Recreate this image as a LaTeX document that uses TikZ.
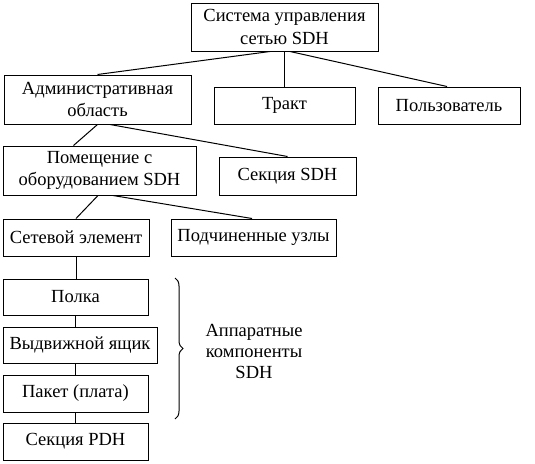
\documentclass[tikz,border=0pt]{standalone}
\usepackage{fontspec}
\setmainfont{Liberation Serif}
\usetikzlibrary{decorations.pathreplacing}
\begin{document}
\begin{tikzpicture}[x=1pt,y=-1pt,
  box/.style={draw,line width=1pt,align=center,inner sep=0pt,font=\fontsize{18.5}{22.5}\selectfont},
  conn/.style={line width=1pt},
  lbl/.style={align=center,font=\fontsize{18.5}{21}\selectfont}]
\useasboundingbox[fill=white] (0,0) rectangle (535,463);
\node[box,minimum width=187pt,minimum height=48pt] (top) at (284.5,27) {Система управления\\сетью SDH};
\node[box,minimum width=187pt,minimum height=49pt] (adm) at (97.5,99.5) {Административная\\область};
\node[box,minimum width=141pt,minimum height=37pt] (trakt) at (284.5,105.5) {Тракт};
\node[box,minimum width=142pt,minimum height=37pt] (polz) at (449,105.5) {Пользователь};
\node[box,minimum width=193pt,minimum height=49pt] (pom) at (99.5,170.5) {Помещение с\\оборудованием SDH};
\node[box,minimum width=137pt,minimum height=38pt] (sek) at (287.5,176) {Секция SDH};
\node[box,minimum width=146pt,minimum height=37pt] (set) at (76,237.5) {Сетевой элемент};
\node[box,minimum width=165pt,minimum height=37pt] (podch) at (253.5,237.5) {Подчиненные узлы};
\node[box,minimum width=145pt,minimum height=36pt] (polka) at (75.5,297) {Полка};
\node[box,minimum width=154pt,minimum height=36pt] (vyd) at (80,345) {Выдвижной ящик};
\node[box,minimum width=145pt,minimum height=37pt] (paket) at (75.5,393.5) {Пакет (плата)};
\node[box,minimum width=145pt,minimum height=37pt] (pdh) at (75.5,441.5) {Секция PDH};
\draw[conn] ([xshift=-14.5pt]top.south) -- (adm.north);
\draw[conn] (top.south) -- (trakt.north);
\draw[conn] ([xshift=5.5pt]top.south) -- ([xshift=-2pt]polz.north);
\draw[conn] (adm.south) -- ([xshift=-26pt]pom.north);
\draw[conn] ([xshift=12.5pt]adm.south) -- (sek.north);
\draw[conn] ([xshift=-1.5pt]pom.south) -- (set.north);
\draw[conn] ([xshift=13.5pt]pom.south) -- ([xshift=-1.5pt]podch.north);
\draw[conn] (set.south) -- (set.south |- polka.north);
\draw[conn] (polka.south) -- (polka.south |- vyd.north);
\draw[conn] (paket.north |- vyd.south) -- (paket.north);
\draw[conn] (paket.south) -- (pdh.north);
\coordinate (bt) at (175,278);
\coordinate (bb) at (175,419);
\draw[conn,decorate,decoration={brace,amplitude=8pt}] (bt) -- (bb);
\node[lbl] (hw) at (254,351) {Аппаратные\\компоненты\\SDH};
\end{tikzpicture}
\end{document}
